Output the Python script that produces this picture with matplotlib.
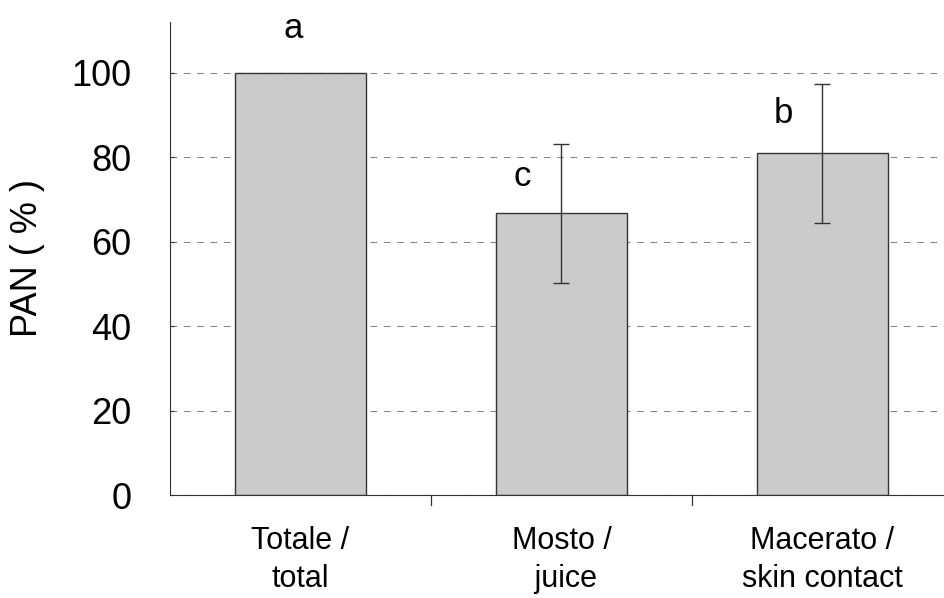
import numpy as np
import matplotlib
matplotlib.use('Agg')
import matplotlib.pyplot as plt

# Dati
categorie = ['Totale /\ntotal', 'Mosto /\n juice', 'Macerato /\nskin contact']
pan = [100.0, 66.7, 80.9]
errore = [0.0, 16.5, 16.5]
lettere = ['a', 'c', 'b']
pos_lettere = [110.6, 75.4, 90.4]
off_lettere = [-0.027, -0.149, -0.149]

plt.rcParams['font.family'] = ['Liberation Sans', 'DejaVu Sans']

fig = plt.figure(figsize=(9.45, 5.98), dpi=100)
ax = fig.add_axes([0.18, 0.172, 0.82, 0.791])

x = np.arange(len(categorie))
ax.bar(x, pan, width=0.5, color='#cbcbcb', edgecolor='#333333', linewidth=1.0, zorder=2)
for xi, v, e in zip(x, pan, errore):
    if e > 0:
        ax.errorbar(xi, v, yerr=e, fmt='none', ecolor='#333333', elinewidth=1.0,
                    capsize=6, capthick=1.0, zorder=3)

for xi, l, y, dx in zip(x, lettere, pos_lettere, off_lettere):
    ax.text(xi + dx, y, l, ha='center', va='center', fontsize=25, clip_on=False)

ax.set_xlim(-0.5, 2.47)
ax.set_ylim(0, 112)
ax.set_yticks([0, 20, 40, 60, 80, 100])
ax.tick_params(axis='y', direction='in', length=3, width=0.8, colors='#333333',
               labelcolor='black', labelsize=26, pad=28)
ax.set_xticks(x)
ax.set_xticklabels(categorie, fontsize=22, linespacing=1.35)
ax.tick_params(axis='x', length=0, pad=22)
# petites marques entre les catégories
for b in [0.5, 1.5]:
    ax.plot([b, b], [0, -2.4], color='#333333', lw=0.9, clip_on=False)

ax.yaxis.grid(True, linestyle=(0, (6, 6)), color='#888888', linewidth=0.8, zorder=0)
ax.set_axisbelow(True)
ax.spines['top'].set_visible(False)
ax.spines['right'].set_visible(False)
ax.spines['left'].set_color('#333333')
ax.spines['bottom'].set_color('#333333')
fig.text(28 / 945, 1 - 258 / 598, 'PAN ( % )', rotation=90, ha='center', va='center',
         fontsize=26)

plt.savefig('out.png', dpi=100)
